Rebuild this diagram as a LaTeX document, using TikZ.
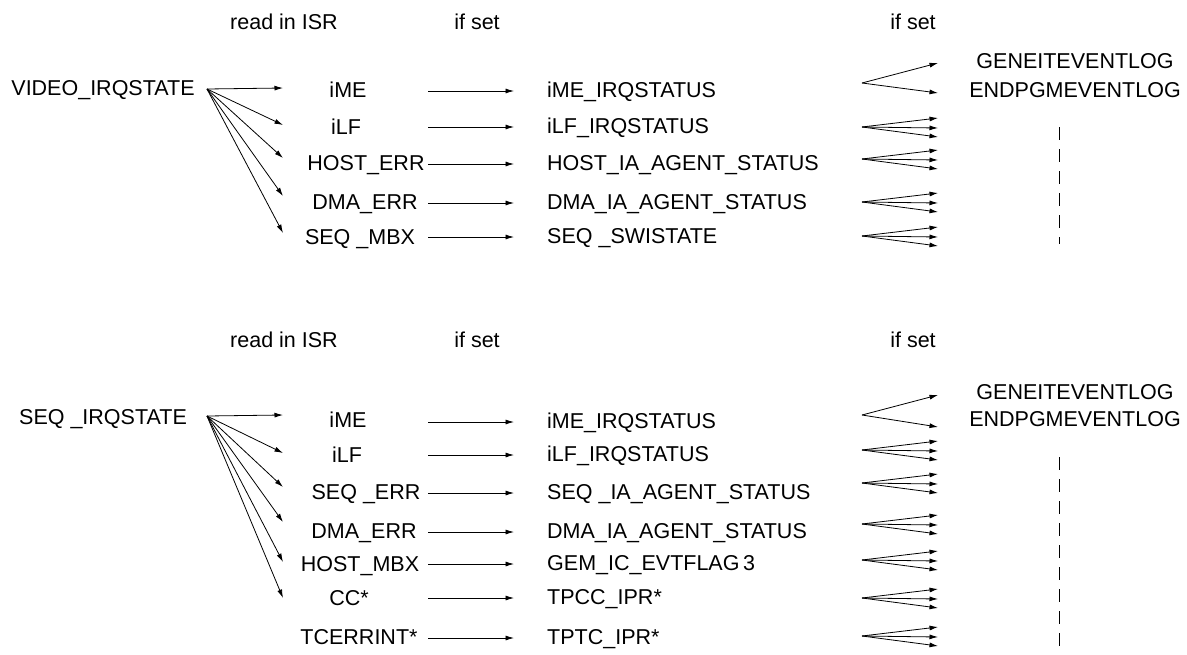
\documentclass[tikz,border=0pt]{standalone}
\usepackage{fontspec}
\setmainfont{Liberation Sans}
\usetikzlibrary{arrows.meta}
\begin{document}
\begin{tikzpicture}[x=1pt,y=-1pt,
  lbl/.style={inner sep=0pt,text height=15pt,text depth=0pt,font=\fontsize{21.5}{25}\selectfont},
  arr/.style={-{Latex[length=8.5pt,width=5pt]},line width=0.8pt},
  dashline/.style={dash pattern=on 13pt off 9pt,line width=0.8pt}]
\useasboundingbox (0,0) rectangle (1187,654);

% ================= TOP SECTION =================
\node[lbl] (tHa) at (284,22) {read in ISR};
\node[lbl] (tHb) at (477,22) {if set};
\node[lbl] (tHc) at (913,22) {if set};

\node[lbl] (tsrc) at (103,88) {VIDEO\_IRQSTATE};
\coordinate (tfo) at (207,89);

\foreach \n/\ty/\lx/\ly/\ltxt/\ry/\rtxt in {
  1/88/348/90/iME/91/iME\_IRQSTATUS,
  2/125/346/127/iLF/127/iLF\_IRQSTATUS,
  3/158/366/163/HOST\_ERR/164/HOST\_IA\_AGENT\_STATUS,
  4/196/365/202/DMA\_ERR/203/DMA\_IA\_AGENT\_STATUS,
  5/233/360/237/SEQ \_MBX/237/SEQ \_SWISTATE}{
  \coordinate (tft\n) at (283,\ty);
  \draw[arr] (tfo) -- (tft\n);
  \node[lbl] (tl\n) at (\lx,\ly) {\ltxt};
  \coordinate (tas\n) at (428,\ry);
  \coordinate (tae\n) at (514,\ry);
  \draw[arr] (tas\n) -- (tae\n);
  \node[lbl,anchor=west] (tr\n) at (547,\ry-1.5) {\rtxt};
}

% right pair
\node[lbl] (tgen) at (1075,61) {GENEITEVENTLOG};
\node[lbl] (tend) at (1075,90) {ENDPGMEVENTLOG};
\coordinate (tpo) at (862,83);
\coordinate (tpa) at (938,63);
\coordinate (tpb) at (938,93);
\draw[arr] (tpo) -- (tpa);
\draw[arr] (tpo) -- (tpb);

% right triple fans
\foreach \n/\oy in {1/127,2/159,3/202,4/236}{
  \coordinate (tto\n) at (862,\oy);
  \coordinate (tta\n) at (938,\oy-9);
  \coordinate (ttb\n) at (938,\oy+1);
  \coordinate (ttc\n) at (938,\oy+10);
  \draw[arr] (tto\n) -- (tta\n);
  \draw[arr] (tto\n) -- (ttb\n);
  \draw[arr] (tto\n) -- (ttc\n);
}
\coordinate (tdA) at (1059,127);
\coordinate (tdB) at (1059,244);
\draw[dashline] (tdA) -- (tdB);

% ================= BOTTOM SECTION =================
\node[lbl] (bHa) at (284,340) {read in ISR};
\node[lbl] (bHb) at (477,340) {if set};
\node[lbl] (bHc) at (913,340) {if set};

\node[lbl] (bsrc) at (103,417) {SEQ \_IRQSTATE};
\coordinate (bfo) at (207,416);

\foreach \n/\ty in {1/415,2/453,3/487,4/522,5/562,6/598}{
  \coordinate (bft\n) at (283,\ty);
  \draw[arr] (bfo) -- (bft\n);
}

\foreach \n/\lx/\ly/\ltxt/\ry/\rtxt in {
  1/348/420/iME/422/iME\_IRQSTATUS,
  2/347/455/iLF/455/iLF\_IRQSTATUS,
  3/366/492/SEQ \_ERR/493/SEQ \_IA\_AGENT\_STATUS,
  4/364/531/DMA\_ERR/532/DMA\_IA\_AGENT\_STATUS,
  5/360/564/HOST\_MBX/564/GEM\_IC\_EVTFLAG\,3,
  6/349/598/CC*/598/TPCC\_IPR*,
  7/359/637/TCERRINT*/638/TPTC\_IPR*}{
  \node[lbl] (bl\n) at (\lx,\ly) {\ltxt};
  \coordinate (bas\n) at (428,\ry);
  \coordinate (bae\n) at (514,\ry);
  \draw[arr] (bas\n) -- (bae\n);
  \node[lbl,anchor=west] (br\n) at (547,\ry-1.5) {\rtxt};
}

\node[lbl] (bgen) at (1075,392) {GENEITEVENTLOG};
\node[lbl] (bend) at (1075,419) {ENDPGMEVENTLOG};
\coordinate (bpo) at (862,415);
\coordinate (bpa) at (938,395);
\coordinate (bpb) at (938,427);
\draw[arr] (bpo) -- (bpa);
\draw[arr] (bpo) -- (bpb);

\foreach \n/\oy in {1/450,2/483,3/524,4/560,5/598,6/636}{
  \coordinate (bto\n) at (862,\oy);
  \coordinate (bta\n) at (938,\oy-9);
  \coordinate (btb\n) at (938,\oy+1);
  \coordinate (btc\n) at (938,\oy+10);
  \draw[arr] (bto\n) -- (bta\n);
  \draw[arr] (bto\n) -- (btb\n);
  \draw[arr] (bto\n) -- (btc\n);
}
\coordinate (bdA) at (1059,457);
\coordinate (bdB) at (1059,654);
\draw[dashline] (bdA) -- (bdB);
\end{tikzpicture}
\end{document}
